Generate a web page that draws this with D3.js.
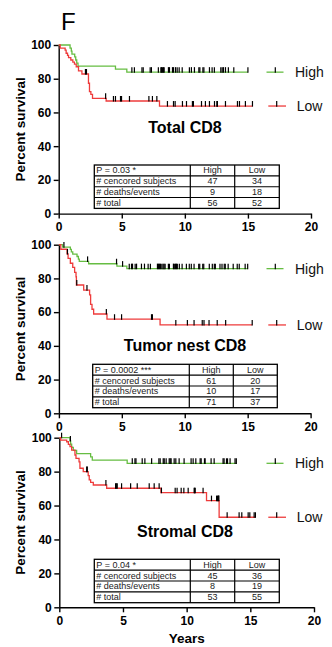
<!DOCTYPE html>
<html>
<head>
<meta charset="utf-8">
<script src="https://cdn.jsdelivr.net/npm/d3@7"></script>
<style>
  body { margin: 0; background: #fff; }
  svg { display: block; font-family: "Liberation Sans", Arial, sans-serif; }
</style>
</head>
<body>
<div id="chart"></div>
<script>
//Ticks y textos
const xTicks = [0, 5, 10, 15, 20];
const yTicks = [0, 20, 40, 60, 80, 100];
const groups = ['High', 'Low'];
const panelTitles = ['Total CD8', 'Tumor nest CD8', 'Stromal CD8'];
const pTexts = ['P = 0.03 *', 'P = 0.0002 ***', 'P = 0.04 *'];
const rowLabels = ['# cencored subjects', '# deaths/events', '# total'];

//Tabla: [censurados, eventos, total]
const highCounts = [[47, 9, 56], [61, 10, 71], [45, 8, 53]];
const lowCounts = [[34, 18, 52], [20, 17, 37], [36, 19, 55]];

//Total CD8
const totalHighTime = [0, 0.9, 1.0, 1.05, 1.27, 1.35, 1.43, 1.53, 4.5, 5.4];
const totalHighSurv = [100, 98.2, 96.4, 94.6, 92.9, 91.1, 89.3, 87.5, 85.7, 83.9];
const totalHighCensor = [5.8, 6.0, 6.6, 6.7, 7.25, 7.35, 7.9, 8.1, 8.15, 8.22, 8.3, 8.36, 8.7, 8.78, 9.02, 9.1, 9.26, 9.39, 9.55, 9.79, 10.36, 10.52, 10.76, 11.11, 11.19, 11.43, 11.51, 11.95, 12.16, 12.34, 12.85, 12.96, 13.06, 13.22, 13.45, 13.88, 15.0];
const totalLowTime = [0, 0.12, 0.51, 0.59, 0.70, 0.78, 0.96, 1.12, 1.25, 1.39, 1.57, 1.84, 2.36, 2.44, 2.55, 2.68, 3.76, 7.99];
const totalLowSurv = [100, 98.1, 97.0, 95.1, 93.9, 92.5, 91.1, 89.9, 88.7, 87.1, 84.6, 82.8, 77.3, 72.3, 70.7, 68.4, 66.8, 63.8];
const totalLowCensor = [2.12, 2.2, 3.72, 4.34, 4.5, 4.9, 4.98, 5.61, 7.15, 7.43, 7.78, 8.62, 9.1, 9.23, 9.81, 10.13, 10.6, 10.68, 11.32, 11.63, 11.95, 12.35, 12.54, 12.58, 13.22, 14.17, 14.33, 14.8, 15.36];

//Tumor nest CD8
const nestHighTime = [0, 0.30, 0.91, 0.99, 1.10, 1.44, 1.55, 1.62, 2.36, 4.61, 5.40];
const nestHighSurv = [100, 98.6, 97.2, 95.8, 94.4, 93.0, 91.5, 90.1, 88.7, 87.3, 85.8];
const nestHighCensor = [0.4, 2.28, 4.58, 5.06, 5.59, 5.77, 5.85, 6.06, 6.17, 6.56, 6.8, 7.09, 7.27, 7.83, 7.91, 7.99, 8.07, 8.18, 8.28, 8.36, 8.44, 8.7, 8.78, 9.1, 9.17, 9.26, 9.34, 9.41, 9.57, 9.79, 10.13, 10.36, 10.52, 10.74, 11.11, 11.19, 11.43, 11.51, 11.95, 12.19, 12.35, 12.43, 12.8, 12.96, 13.14, 13.22, 13.45, 13.85, 14.17, 14.33, 14.8, 15.0];
const nestLowTime = [0, 0.15, 0.65, 0.73, 0.91, 1.10, 1.25, 1.36, 1.39, 1.97, 2.44, 2.52, 2.63, 2.76, 3.82, 8.04];
const nestLowSurv = [100, 97.3, 94.5, 91.9, 89.0, 86.6, 83.6, 81.0, 76.1, 73.1, 70.2, 64.6, 61.7, 58.9, 55.8, 52.4];
const nestLowCensor = [0.68, 1.42, 2.23, 3.77, 4.42, 4.98, 7.36, 7.43, 9.29, 10.21, 10.74, 11.39, 11.53, 11.93, 12.58, 13.25, 15.36];

//Stromal CD8
const stromaHighTime = [0, 0.84, 0.89, 0.97, 1.10, 1.36, 2.46, 2.59, 5.33];
const stromaHighSurv = [100, 98.1, 96.2, 94.3, 92.5, 90.6, 88.7, 86.8, 84.9];
const stromaHighCensor = [0.18, 0.87, 5.73, 5.94, 6.02, 6.51, 6.72, 7.25, 7.82, 7.92, 8.16, 8.24, 8.39, 8.63, 8.71, 8.78, 9.02, 9.15, 9.41, 9.8, 10.35, 10.51, 10.72, 11.06, 11.14, 11.4, 11.45, 11.92, 12.16, 12.86, 12.94, 13.13, 13.21, 13.41, 13.8, 13.9];
const stromaLowTime = [0, 0.1, 0.58, 0.71, 0.84, 0.97, 1.23, 1.31, 1.55, 1.62, 1.88, 2.27, 2.35, 2.46, 2.67, 3.72, 7.98, 11.56, 12.55];
const stromaLowSurv = [100, 98.6, 97.6, 96.1, 94.7, 92.7, 89.8, 87.8, 85.8, 82.0, 80.0, 77.6, 75.1, 73.7, 72.1, 70.2, 67.6, 62.9, 53.1];
const stromaLowCensor = [2.15, 2.2, 3.66, 4.42, 4.48, 4.55, 4.89, 5.6, 6.12, 7.06, 7.45, 7.84, 8.02, 9.1, 9.25, 9.57, 9.78, 10.12, 10.59, 10.63, 10.67, 11.29, 11.95, 12.35, 12.42, 12.49, 12.53, 13.18, 14.12, 14.33, 14.83, 14.96, 15.3, 15.4];

//Colores
const COLOR_HIGH = '#66bd42',
COLOR_LOW = '#ee3b3b';

//Posición de cada panel en la figura
const panels = [
    { top: 45, bottom: 213.6, left: 58.7, right: 311, tableX: 94.3, tableY: 165, tableW: 185, colA: 190.3, colB: 234.7, titleY: 132.5,
      high: [totalHighTime, totalHighSurv, totalHighCensor], low: [totalLowTime, totalLowSurv, totalLowCensor] },
    { top: 244.7, bottom: 413.3, left: 58.9, right: 310.6, tableX: 92.7, tableY: 364.3, tableW: 184.6, colA: 189.3, colB: 233.3, titleY: 350.5,
      high: [nestHighTime, nestHighSurv, nestHighCensor], low: [nestLowTime, nestLowSurv, nestLowCensor] },
    { top: 437.7, bottom: 607.3, left: 59.3, right: 314, tableX: 94.3, tableY: 559.3, tableW: 185, colA: 190.3, colB: 234.7, titleY: 537,
      high: [stromaHighTime, stromaHighSurv, stromaHighCensor], low: [stromaLowTime, stromaLowSurv, stromaLowCensor] }
];

let svg = d3.select('#chart')
    .append('svg')
    .attr('width', 332)
    .attr('height', 647);

svg.append('text')
    .attr('x', 61)
    .attr('y', 29.5)
    .style('font-size', '24px')
    .text('F');

//Valor de la curva en un momento dado
function survAt(times, surv, t) {
    let i = d3.bisectRight(times, t) - 1;
    return surv[Math.max(0, i)];
}

panels.forEach(function(p, idx) {
    let x = d3.scaleLinear().domain([0, 20]).range([p.left, p.right]);
    let y = d3.scaleLinear().domain([0, 100]).range([p.bottom, p.top]);

    let g = svg.append('g');

    //Ejes
    let yAxis = g.append('g')
        .attr('transform', 'translate(' + p.left + ',0)')
        .call(d3.axisLeft(y).tickValues(yTicks).tickSize(5).tickPadding(2.5).tickSizeOuter(0));

    let xAxis = g.append('g')
        .attr('transform', 'translate(0,' + p.bottom + ')')
        .call(d3.axisBottom(x).tickValues(xTicks).tickSize(5).tickPadding(4).tickSizeOuter(0));

    [yAxis, xAxis].forEach(function(a) {
        a.select('.domain').attr('stroke', '#000').attr('stroke-width', 1.4);
        a.selectAll('.tick line').attr('stroke', '#000').attr('stroke-width', 1.4);
        a.selectAll('.tick text')
            .attr('fill', '#000')
            .style('font-size', '12px')
            .style('font-weight', 'bold')
            .style('font-family', '"Liberation Sans", Arial, sans-serif');
    });

    //Etiqueta eje Y
    g.append('text')
        .attr('transform', 'translate(25,' + ((p.top + p.bottom) / 2) + ') rotate(-90)')
        .attr('text-anchor', 'middle')
        .style('font-size', '13.5px')
        .style('font-weight', 'bold')
        .text('Percent survival');

    //Título
    g.append('text')
        .attr('x', 185)
        .attr('y', p.titleY)
        .attr('text-anchor', 'middle')
        .style('font-size', '16px')
        .style('font-weight', 'bold')
        .text(panelTitles[idx]);

    //Curvas
    let line = d3.line()
        .x(function(d) { return x(d[0]); })
        .y(function(d) { return y(d[1]); })
        .curve(d3.curveStepAfter);

    [[p.high, COLOR_HIGH], [p.low, COLOR_LOW]].forEach(function(item) {
        let times = item[0][0], surv = item[0][1], censor = item[0][2];
        let pts = times.map(function(t, i) { return [t, surv[i]]; });
        let end = d3.max(censor.concat(times));
        pts.push([end, surv[surv.length - 1]]);

        g.append('path')
            .attr('d', line(pts))
            .attr('fill', 'none')
            .attr('stroke', item[1])
            .attr('stroke-width', 1.3);

        g.append('g')
            .selectAll('line')
            .data(censor)
            .enter()
            .append('line')
            .attr('x1', function(d) { return x(d); })
            .attr('x2', function(d) { return x(d); })
            .attr('y1', function(d) { return y(survAt(times, surv, d)) - 5; })
            .attr('y2', function(d) { return y(survAt(times, surv, d)) + 0.6; })
            .attr('stroke', '#000')
            .attr('stroke-width', 1.2);
    });

    //Leyenda, al final de cada curva
    [[p.high, COLOR_HIGH, 266.5, 283.5, 275.3, 295], [p.low, COLOR_LOW, 268.3, 286, 276.7, 296.8]].forEach(function(item, i) {
        let surv = item[0][1];
        let yy = y(surv[surv.length - 1]);
        g.append('line')
            .attr('x1', item[2]).attr('x2', item[3])
            .attr('y1', yy).attr('y2', yy)
            .attr('stroke', item[1])
            .attr('stroke-width', 1.3);
        g.append('line')
            .attr('x1', item[4]).attr('x2', item[4])
            .attr('y1', yy - 5).attr('y2', yy + 0.6)
            .attr('stroke', '#000')
            .attr('stroke-width', 1.2);
        g.append('text')
            .attr('x', item[5])
            .attr('y', yy + 5)
            .style('font-size', '14px')
            .attr('fill', '#111')
            .text(groups[i]);
    });

    //Tabla
    let rowH = 10.85;
    let table = g.append('g');
    let rows = [[pTexts[idx], groups[0], groups[1]]];
    rowLabels.forEach(function(r, j) {
        rows.push([r, highCounts[idx][j], lowCounts[idx][j]]);
    });

    rows.forEach(function(r, j) {
        let ty = p.tableY + j * rowH + 8.4;
        table.append('text').attr('x', p.tableX + 2).attr('y', ty).text(r[0]);
        table.append('text').attr('x', (p.colA + p.colB) / 2).attr('y', ty).attr('text-anchor', 'middle').text(r[1]);
        table.append('text').attr('x', (p.colB + p.tableX + p.tableW) / 2).attr('y', ty).attr('text-anchor', 'middle').text(r[2]);
    });
    table.selectAll('text').style('font-size', '9px').attr('fill', '#222');

    table.append('rect')
        .attr('x', p.tableX).attr('y', p.tableY)
        .attr('width', p.tableW).attr('height', rowH * 4)
        .attr('fill', 'none').attr('stroke', '#000').attr('stroke-width', 1.3);
    [1, 2, 3].forEach(function(j) {
        table.append('line')
            .attr('x1', p.tableX).attr('x2', p.tableX + p.tableW)
            .attr('y1', p.tableY + j * rowH).attr('y2', p.tableY + j * rowH)
            .attr('stroke', '#000').attr('stroke-width', 1.1);
    });
    [p.colA, p.colB].forEach(function(cx) {
        table.append('line')
            .attr('x1', cx).attr('x2', cx)
            .attr('y1', p.tableY).attr('y2', p.tableY + rowH * 4)
            .attr('stroke', '#000').attr('stroke-width', 1.2);
    });
});

//Etiqueta eje X
svg.append('text')
    .attr('x', 186.7)
    .attr('y', 643)
    .attr('text-anchor', 'middle')
    .style('font-size', '13.5px')
    .style('font-weight', 'bold')
    .text('Years');
</script>
</body>
</html>
